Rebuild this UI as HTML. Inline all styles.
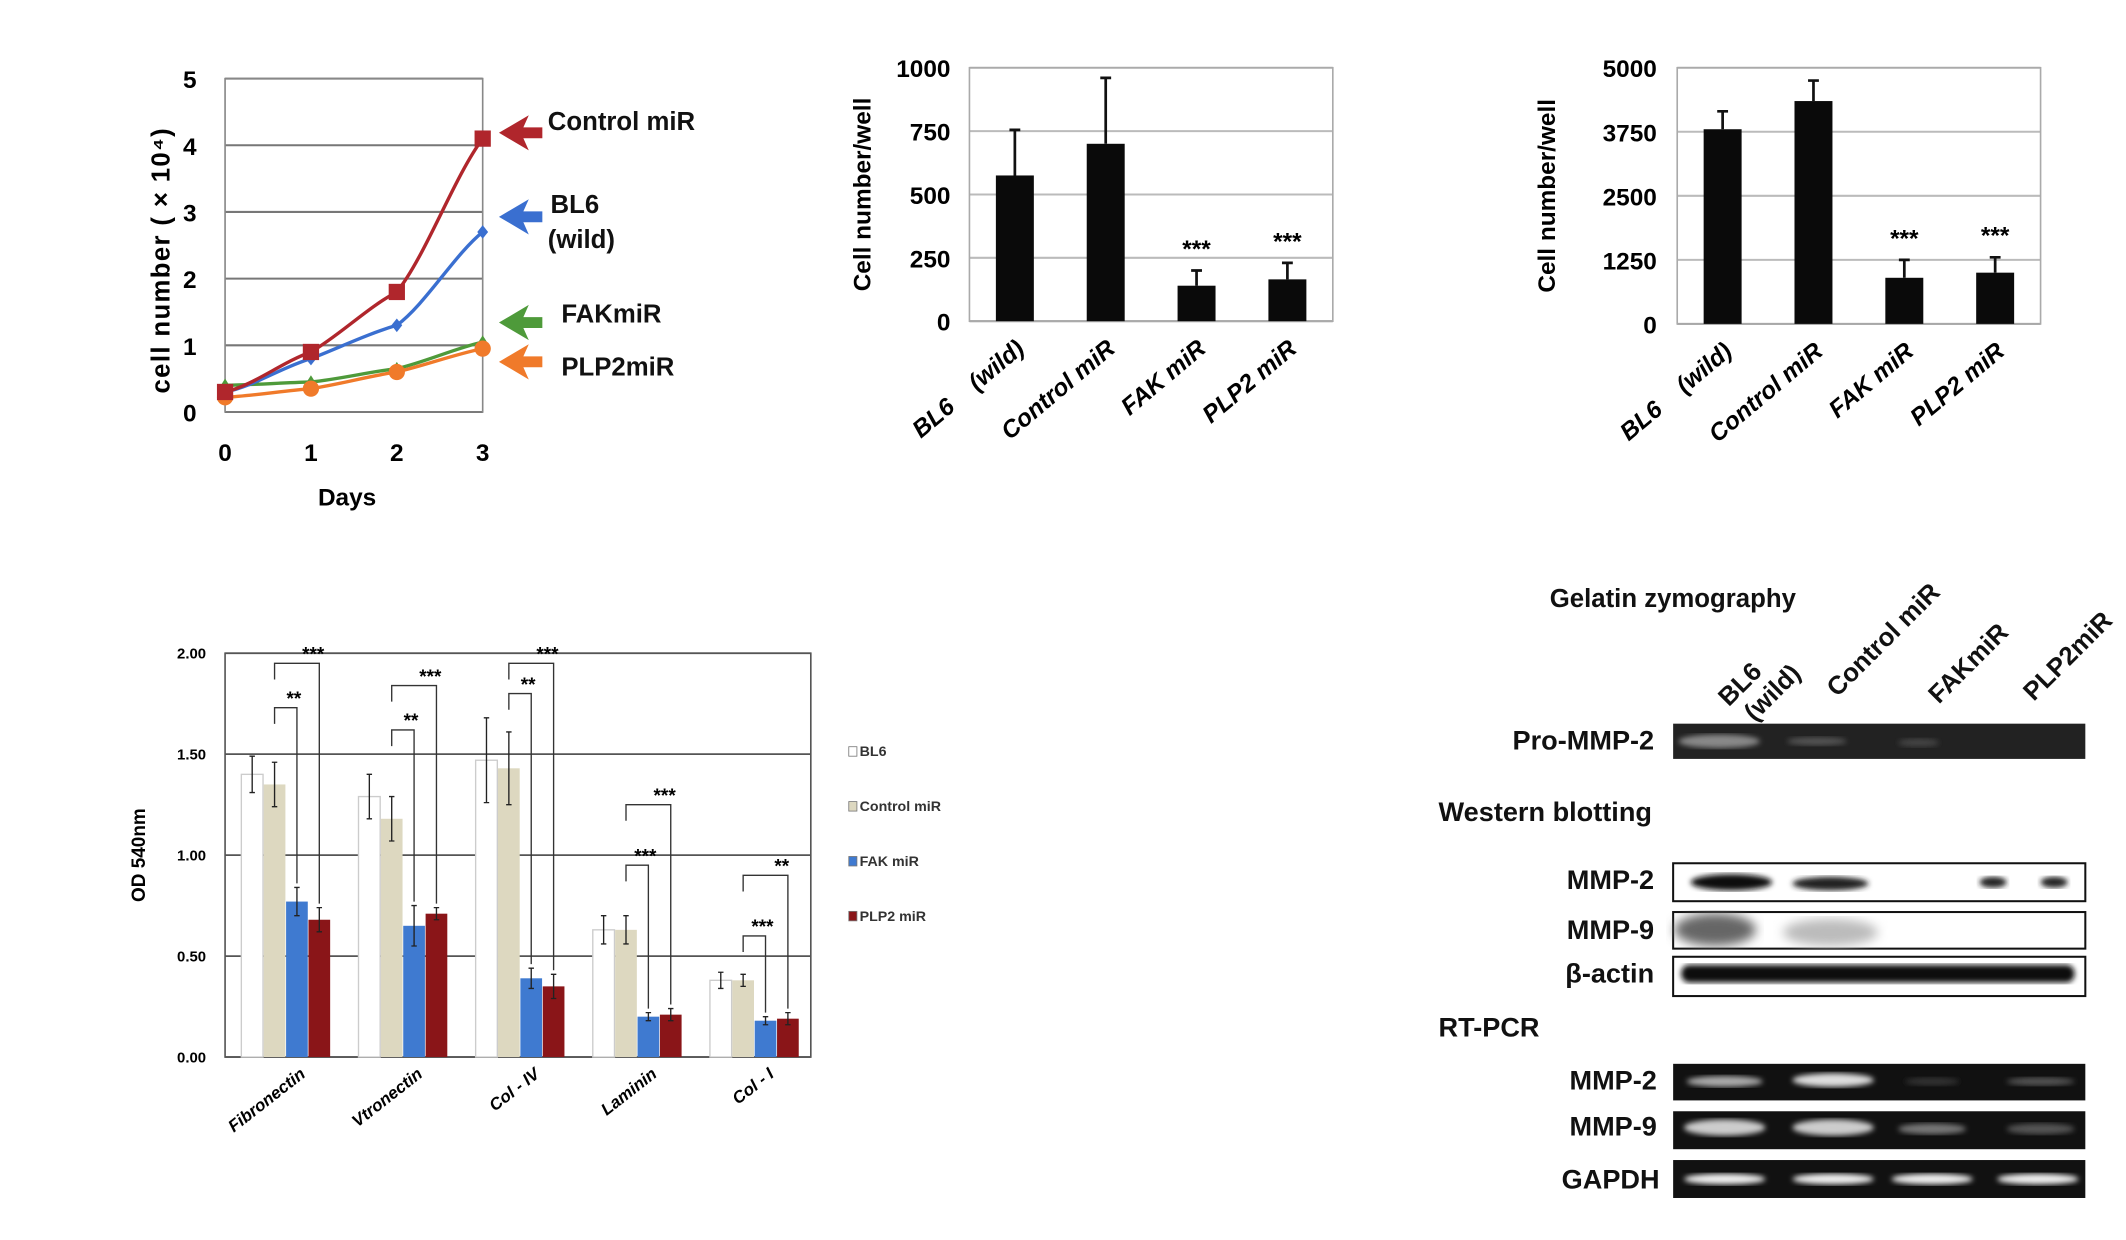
<!DOCTYPE html>
<html><head><meta charset="utf-8">
<style>
html,body{margin:0;padding:0;background:#fff;}
svg{display:block;font-family:"Liberation Sans",sans-serif;}
</style></head>
<body>
<svg id="fig" width="2126" height="1240" viewBox="0 0 1568 915" preserveAspectRatio="none" xmlns="http://www.w3.org/2000/svg">
<rect width="1568" height="915" fill="#fff"/>
<defs>
<filter id="blur2"><feGaussianBlur stdDeviation="2"/></filter>
<filter id="blur4"><feGaussianBlur stdDeviation="4"/></filter>
</defs>
<g id="blots" font-weight="bold" fill="#111">
<text x="1143" y="448" font-size="19">Gelatin zymography</text>
<text transform="translate(1275,522) rotate(-45)" font-size="19">BL6</text>
<text transform="translate(1294,533) rotate(-45)" font-size="19">(wild)</text>
<text transform="translate(1355,515) rotate(-45)" font-size="19">Control miR</text>
<text transform="translate(1430,520) rotate(-45)" font-size="19">FAKmiR</text>
<text transform="translate(1500,518) rotate(-45)" font-size="19">PLP2miR</text>
<text x="1220" y="553" text-anchor="end" font-size="20">Pro-MMP-2</text>
<rect x="1234" y="534" width="304" height="26" fill="#222"/>
<ellipse cx="1268" cy="547" rx="30" ry="5" fill="#888" filter="url(#blur2)"/>
<ellipse cx="1340" cy="547" rx="22" ry="3" fill="#555" filter="url(#blur2)"/>
<ellipse cx="1415" cy="548" rx="15" ry="3" fill="#444" filter="url(#blur2)"/>
<text x="1061" y="606" font-size="20">Western blotting</text>
<text x="1220" y="656" text-anchor="end" font-size="20">MMP-2</text>
<rect x="1234" y="637" width="304" height="28" fill="#fff" stroke="#111" stroke-width="1.5"/>
<ellipse cx="1277" cy="651" rx="30" ry="6" fill="#111" filter="url(#blur2)"/>
<ellipse cx="1350" cy="652" rx="28" ry="5" fill="#222" filter="url(#blur2)"/>
<ellipse cx="1470" cy="651" rx="10" ry="4" fill="#222" filter="url(#blur2)"/>
<ellipse cx="1515" cy="651" rx="10" ry="4" fill="#222" filter="url(#blur2)"/>
<text x="1220" y="693" text-anchor="end" font-size="20">MMP-9</text>
<rect x="1234" y="673" width="304" height="27" fill="#fff" stroke="#111" stroke-width="1.5"/>
<ellipse cx="1265" cy="686" rx="30" ry="12" fill="#666" filter="url(#blur4)"/>
<ellipse cx="1350" cy="688" rx="35" ry="10" fill="#bbb" filter="url(#blur4)"/>
<text x="1220" y="725" text-anchor="end" font-size="20">β-actin</text>
<rect x="1234" y="706" width="304" height="29" fill="#fff" stroke="#111" stroke-width="1.5"/>
<rect x="1240" y="712" width="290" height="13" rx="6" fill="#111" filter="url(#blur2)"/>
<text x="1061" y="765" font-size="20">RT-PCR</text>
<text x="1222" y="804" text-anchor="end" font-size="20">MMP-2</text>
<rect x="1234" y="785" width="304" height="27" fill="#111"/>
<ellipse cx="1272" cy="798" rx="28" ry="4" fill="#aaa" filter="url(#blur2)"/>
<ellipse cx="1352" cy="797" rx="30" ry="5" fill="#ddd" filter="url(#blur2)"/>
<ellipse cx="1425" cy="798" rx="20" ry="3" fill="#333" filter="url(#blur2)"/>
<ellipse cx="1505" cy="798" rx="25" ry="3" fill="#555" filter="url(#blur2)"/>
<text x="1222" y="838" text-anchor="end" font-size="20">MMP-9</text>
<rect x="1234" y="820" width="304" height="28" fill="#111"/>
<ellipse cx="1272" cy="832" rx="30" ry="6" fill="#ccc" filter="url(#blur2)"/>
<ellipse cx="1352" cy="832" rx="30" ry="6" fill="#ccc" filter="url(#blur2)"/>
<ellipse cx="1425" cy="833" rx="25" ry="4" fill="#777" filter="url(#blur2)"/>
<ellipse cx="1505" cy="833" rx="25" ry="4" fill="#555" filter="url(#blur2)"/>
<text x="1224" y="877" text-anchor="end" font-size="20">GAPDH</text>
<rect x="1234" y="856" width="304" height="28" fill="#111"/>
<ellipse cx="1272" cy="870" rx="30" ry="4" fill="#eee" filter="url(#blur2)"/>
<ellipse cx="1352" cy="870" rx="30" ry="4" fill="#eee" filter="url(#blur2)"/>
<ellipse cx="1425" cy="870" rx="30" ry="4" fill="#eee" filter="url(#blur2)"/>
<ellipse cx="1503" cy="870" rx="30" ry="4" fill="#eee" filter="url(#blur2)"/>
</g>
</svg>
<script>
// ---------- data ----------
const growthDays = [0, 1, 2, 3];
const growthControl = [0.3, 0.9, 1.8, 4.1];
const growthBL6 = [0.3, 0.8, 1.3, 2.7];
const growthFAK = [0.4, 0.45, 0.65, 1.05];
const growthPLP2 = [0.22, 0.35, 0.6, 0.95];
const growthTicks = [0, 1, 2, 3, 4, 5];

const barCats = ["BL6\u00a0\u00a0\u00a0\u00a0(wild)", "Control miR", "FAK miR", "PLP2 miR"];
const bar2Values = [575, 700, 140, 165];
const bar2Err = [180, 260, 60, 65];
const bar2Ticks = [0, 250, 500, 750, 1000];
const bar3Values = [3800, 4350, 900, 1000];
const bar3Err = [350, 400, 350, 300];
const bar3Ticks = [0, 1250, 2500, 3750, 5000];

const adhCats = ["Fibronectin", "Vtronectin", "Col - IV", "Laminin", "Col - I"];
const adhBL6 = [1.40, 1.29, 1.47, 0.63, 0.38];
const adhCtrl = [1.35, 1.18, 1.43, 0.63, 0.38];
const adhFAK = [0.77, 0.65, 0.39, 0.20, 0.18];
const adhPLP2 = [0.68, 0.71, 0.35, 0.21, 0.19];
const adhErrBL6 = [0.09, 0.11, 0.21, 0.07, 0.04];
const adhErrCtrl = [0.11, 0.11, 0.18, 0.07, 0.03];
const adhErrFAK = [0.07, 0.10, 0.05, 0.02, 0.02];
const adhErrPLP2 = [0.06, 0.03, 0.06, 0.03, 0.03];
const adhTicks = ["0.00", "0.50", "1.00", "1.50", "2.00"];
const adhSeriesNames = ["BL6", "Control miR", "FAK miR", "PLP2 miR"];

// ---------- helpers ----------
const NS = "http://www.w3.org/2000/svg";
const svg = document.getElementById("fig");
function mk(tag, attrs, parent, txt) {
  const e = document.createElementNS(NS, tag);
  for (const k in attrs) e.setAttribute(k, attrs[k]);
  if (txt !== undefined) e.textContent = txt;
  (parent || svg).appendChild(e);
  return e;
}

// ---------- Chart 1: growth ----------
(function () {
  const g = mk("g", {});
  
  
  const x0 = 166, x1 = 356, yT = 58, yB = 304;
  const xs = d => x0 + (x1 - x0) * d / 3;
  const ys = v => yB - (yB - yT) * v / 5;
  growthTicks.forEach(t => {
    const l = mk("line", {x1: x0, x2: x1, y1: ys(t), y2: ys(t), stroke: t === 0 ? "#444" : "#777", "stroke-width": 1.5}, g);
    
    
    const tx = mk("text", {x: 140, y: ys(t) + 7, "text-anchor": "middle", "font-size": 18, "font-weight": "bold"}, g, String(t));
    
    
  });
  const fr = mk("rect", {x: x0, y: yT, width: x1 - x0, height: yB - yT, fill: "none", stroke: "#888", "stroke-width": 1.2}, g);
  
  
  growthDays.forEach(d => {
    const tx = mk("text", {x: xs(d), y: 340, "text-anchor": "middle", "font-size": 18, "font-weight": "bold"}, g, String(d));
    
    
  });
  const xt = mk("text", {x: 256, y: 373, "text-anchor": "middle", "font-size": 18, "font-weight": "bold"}, g, "Days");
  
  
  const yt = mk("text", {transform: "translate(125,192) rotate(-90)", "text-anchor": "middle", "font-size": 19, "font-weight": "bold", "letter-spacing": 1}, g, "cell  number ( × 10⁴)");
  
  
  const series = [
    {v: growthFAK, c: "#4e9a3a", m: "tri", n: "fak"},
    {v: growthPLP2, c: "#f07a2a", m: "circ", n: "plp2"},
    {v: growthBL6, c: "#3a6fd0", m: "dia", n: "bl6"},
    {v: growthControl, c: "#b0262c", m: "sq", n: "control"}
  ];
  series.forEach(s => {
    let d = "";
    s.v.forEach((v, i) => {
      if (i === 0) { d += "M" + xs(growthDays[i]) + "," + ys(v); return; }
      const px = xs(growthDays[i - 1]), py = ys(s.v[i - 1]), cx = xs(growthDays[i]), cy = ys(v);
      const pv = i > 1 ? ys(s.v[i - 2]) : py;
      const mid = (cx - px) / 3;
      d += " C" + (px + mid) + "," + (py - (pv - cy) / 6) + " " + (cx - mid) + "," + (cy + (py - cy) / 4) + " " + cx + "," + cy;
    });
    const p = mk("path", {d: d, fill: "none", stroke: s.c, "stroke-width": 2.5}, g);
    
    
    s.v.forEach((v, i) => {
      const cx = xs(growthDays[i]), cy = ys(v);
      let m;
      if (s.m === "sq") m = mk("rect", {x: cx - 6, y: cy - 6, width: 12, height: 12, fill: s.c}, g);
      else if (s.m === "circ") m = mk("circle", {cx: cx, cy: cy, r: 6, fill: s.c}, g);
      else if (s.m === "dia") m = mk("path", {d: "M" + cx + "," + (cy - 5) + " l4,5 l-4,5 l-4,-5z", fill: s.c}, g);
      else m = mk("path", {d: "M" + cx + "," + (cy - 5) + " l5,8 l-10,0z", fill: s.c}, g);
      
      
    });
  });
  const labs = [
    {t: "Control miR", x: 404, y: 96, c: "#b0262c", ay: 98, n: "control"},
    {t: "BL6", x: 406, y: 157, c: "#3a6fd0", ay: 160, n: "bl6"},
    {t: "(wild)", x: 404, y: 183, c: null, n: "bl6-wild"},
    {t: "FAKmiR", x: 414, y: 238, c: "#4e9a3a", ay: 238, n: "fak"},
    {t: "PLP2miR", x: 414, y: 277, c: "#f07a2a", ay: 267, n: "plp2"}
  ];
  labs.forEach(l => {
    const t = mk("text", {x: l.x, y: l.y, "font-size": 19, "font-weight": "bold", fill: "#111"}, g, l.t);
    
    
    if (l.c) {
      const a = mk("path", {d: "M368," + l.ay + " l22,-13 l-4,9 l14,0 l0,8 l-14,0 l4,9 z", fill: l.c}, g);
      
      
    }
  });
})();

// ---------- Bar charts 2 & 3 ----------
function barChart(id, x0, x1, yT, yB, vals, errs, ticks, labelX, tickX) {
  const g = mk("g", {});
  
  
  const max = ticks[ticks.length - 1];
  const ys = v => yB - (yB - yT) * v / max;
  const bw = (x1 - x0) / vals.length;
  ticks.forEach(t => {
    const l = mk("line", {x1: x0, x2: x1, y1: ys(t), y2: ys(t), stroke: t === 0 ? "#999" : "#bbb", "stroke-width": 1.5}, g);
    
    
    const tx = mk("text", {x: tickX, y: ys(t) + 7, "text-anchor": "end", "font-size": 18, "font-weight": "bold"}, g, String(t));
    
    
  });
  const fr = mk("rect", {x: x0, y: yT, width: x1 - x0, height: yB - yT, fill: "none", stroke: "#aaa", "stroke-width": 1.2}, g);
  
  
  vals.forEach((v, i) => {
    const cx = x0 + bw * (i + 0.5);
    const b = mk("rect", {x: cx - 14, y: ys(v), width: 28, height: yB - ys(v), fill: "#0a0a0a"}, g);
    
    
    const e = mk("path", {d: "M" + cx + "," + ys(v) + " V" + ys(v + errs[i]) + " M" + (cx - 4) + "," + ys(v + errs[i]) + " H" + (cx + 4), stroke: "#111", "stroke-width": 2}, g);
    
    
    if (i >= 2) {
      const s = mk("text", {x: cx, y: ys(v + errs[i]) - 10, "text-anchor": "middle", "font-size": 18, "font-weight": "bold"}, g, "***");
      
      
    }
    const t = mk("text", {transform: "translate(" + (cx + 8) + "," + (yB + 22) + ") rotate(-40)", "text-anchor": "end", "font-size": 18, "font-weight": "bold", "font-style": "italic"}, g, barCats[i]);
    
    
  });
  const yt = mk("text", {transform: "translate(" + labelX + "," + ((yT + yB) / 2) + ") rotate(-90)", "text-anchor": "middle", "font-size": 18, "font-weight": "bold"}, g, "Cell  number/well");
  
  
}
barChart("cell-count-chart-a", 715, 983, 50, 237, bar2Values, bar2Err, bar2Ticks, 642, 701);
barChart("cell-count-chart-b", 1237, 1505, 50, 239, bar3Values, bar3Err, bar3Ticks, 1147, 1222);

// ---------- Chart 4: adhesion ----------
(function () {
  const g = mk("g", {});
  
  
  const x0 = 166, x1 = 598, yT = 482, yB = 780;
  const ys = v => yB - (yB - yT) * v / 2;
  adhTicks.forEach(t => {
    const v = parseFloat(t);
    const l = mk("line", {x1: x0, x2: x1, y1: ys(v), y2: ys(v), stroke: "#555", "stroke-width": 1.3}, g);
    
    
    const tx = mk("text", {x: 152, y: ys(v) + 4, "text-anchor": "end", "font-size": 11, "font-weight": "bold"}, g, t);
    
    
  });
  const fr = mk("rect", {x: x0, y: yT, width: x1 - x0, height: yB - yT, fill: "none", stroke: "#555", "stroke-width": 1.2}, g);
  
  
  const series = [adhBL6, adhCtrl, adhFAK, adhPLP2];
  const errs = [adhErrBL6, adhErrCtrl, adhErrFAK, adhErrPLP2];
  const fills = ["#ffffff", "#ddd8c0", "#3f7ad0", "#8a1518"];
  const gw = (x1 - x0) / adhCats.length;
  adhCats.forEach((c, gi) => {
    const gx = x0 + gi * gw + 12;
    series.forEach((s, si) => {
      const bx = gx + si * 16.5;
      const b = mk("rect", {x: bx, y: ys(s[gi]), width: 16, height: yB - ys(s[gi]), fill: fills[si], stroke: si === 0 ? "#ccc" : "none"}, g);
      
      
      const cx = bx + 8, e = errs[si][gi];
      const eb = mk("path", {d: "M" + cx + "," + ys(s[gi] - e) + " V" + ys(s[gi] + e) + " M" + (cx - 2) + "," + ys(s[gi] - e) + " H" + (cx + 2) + " M" + (cx - 2) + "," + ys(s[gi] + e) + " H" + (cx + 2), stroke: "#222", "stroke-width": 1}, g);
      
      
    });
    const t = mk("text", {transform: "translate(" + (gx + 48) + "," + (yB + 14) + ") rotate(-38)", "text-anchor": "end", "font-size": 12.5, "font-weight": "bold", "font-style": "italic"}, g, c);
    
    
    const ctrlX = gx + 16.5 + 8, fakX = gx + 33 + 8, plpX = gx + 49.5 + 8;
    const top = Math.max(adhBL6[gi], adhCtrl[gi]) + 0.13;
    const h1 = Math.min(top + 0.2, 1.8), h2 = Math.min(top + 0.42, 1.95);
    const lowFlag = gi >= 3;
    const yA = lowFlag ? (gi === 3 ? 0.95 : 0.6) : h1, yB2 = lowFlag ? (gi === 3 ? 1.25 : 0.9) : h2;
    const br1 = mk("path", {d: "M" + ctrlX + "," + ys(yA - 0.08) + " V" + ys(yA) + " H" + fakX + " V" + ys(adhFAK[gi] + errs[2][gi] + 0.02), fill: "none", stroke: "#333", "stroke-width": 1}, g);
    
    
    const br2 = mk("path", {d: "M" + ctrlX + "," + ys(yB2 - 0.08) + " V" + ys(yB2) + " H" + plpX + " V" + ys(adhPLP2[gi] + errs[3][gi] + 0.02), fill: "none", stroke: "#333", "stroke-width": 1}, g);
    
    
    const s1 = mk("text", {x: (ctrlX + fakX) / 2 + 6, y: ys(yA) - 2, "text-anchor": "middle", "font-size": 14, "font-weight": "bold"}, g, (gi === 3 || gi === 4) ? "***" : "**");
    
    
    const s2 = mk("text", {x: (ctrlX + plpX) / 2 + 12, y: ys(yB2) - 2, "text-anchor": "middle", "font-size": 14, "font-weight": "bold"}, g, gi === 4 ? "**" : "***");
    
    
  });
  const yt = mk("text", {transform: "translate(107,631) rotate(-90)", "text-anchor": "middle", "font-size": 14, "font-weight": "bold"}, g, "OD   540nm");
  
  
  adhSeriesNames.forEach((n, i) => {
    const y = 557 + i * 40.5;
    const sw = mk("rect", {x: 626, y: y - 6, width: 6, height: 7, fill: fills[i], stroke: "#777", "stroke-width": 0.6}, g);
    
    
    const t = mk("text", {x: 634, y: y + 1, "font-size": 10.5, "font-weight": "bold", fill: "#333"}, g, n);
    
    
  });
})();
</script>
</body></html>
